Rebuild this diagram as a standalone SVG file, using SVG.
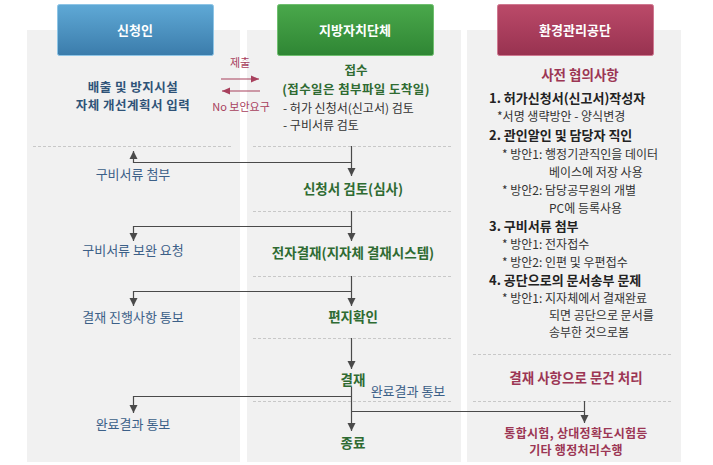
<svg xmlns="http://www.w3.org/2000/svg" width="713" height="465" viewBox="0 0 713 465">
<defs>
<linearGradient id="gBlue" x1="0" y1="0" x2="0" y2="1"><stop offset="0" stop-color="#5fa9d6"/><stop offset="1" stop-color="#3b7cab"/></linearGradient>
<linearGradient id="gGreen" x1="0" y1="0" x2="0" y2="1"><stop offset="0" stop-color="#4aa84b"/><stop offset="1" stop-color="#2f8634"/></linearGradient>
<linearGradient id="gRed" x1="0" y1="0" x2="0" y2="1"><stop offset="0" stop-color="#bb4a69"/><stop offset="1" stop-color="#983250"/></linearGradient>
<marker id="ah" markerUnits="userSpaceOnUse" markerWidth="10" markerHeight="10" viewBox="0 0 10 10" refX="9" refY="5" orient="auto"><path d="M1,1 L9,5 L1,9 Z" fill="#4a4a4a"/></marker>
<marker id="ahr" markerUnits="userSpaceOnUse" markerWidth="10" markerHeight="10" viewBox="0 0 10 10" refX="9" refY="5" orient="auto"><path d="M1,1.5 L9,5 L1,8.5 Z" fill="#a8405d"/></marker>
<style>
text{font-family:"Noto Sans CJK KR","Noto Sans",sans-serif;}
.panel{fill:#f1f1f1;}
.dash{stroke:#c8c8c8;stroke-width:1;stroke-dasharray:3 2;fill:none;}
.hdr{font-size:13px;font-weight:bold;fill:#ffffff;text-anchor:middle;}
.lt{font-size:13px;fill:#3c6088;text-anchor:middle;}
.ltb{font-size:12.5px;font-weight:bold;fill:#2f5378;text-anchor:middle;letter-spacing:0.5px;}
.gt{font-size:13.5px;font-weight:bold;fill:#2f6b32;text-anchor:middle;}
.gs{font-size:12.5px;font-weight:bold;fill:#2f6b32;text-anchor:middle;}
.rt{font-size:13.5px;font-weight:bold;fill:#9c3654;text-anchor:middle;}
.rs2{font-size:12px;font-weight:bold;fill:#9c3654;text-anchor:middle;letter-spacing:0.3px;}
.dk{font-size:12px;fill:#333333;}
.dkb{font-size:13px;font-weight:bold;fill:#222222;}
.rs{font-size:11px;fill:#a8405d;text-anchor:middle;}
.con{stroke:#4a4a4a;stroke-width:1.2;fill:none;}
.rcon{stroke:#a8405d;stroke-width:1.2;fill:none;}
</style>
</defs>
<rect x="0" y="0" width="713" height="465" fill="#ffffff"/>
<rect class="panel" x="27" y="30" width="213" height="432"/>
<rect class="panel" x="247" y="30" width="214" height="432"/>
<rect class="panel" x="467" y="30" width="214" height="432"/>

<g id="dashes">
<line class="dash" x1="33" y1="146.5" x2="232" y2="146.5"/>
<line class="dash" x1="253" y1="146.5" x2="453" y2="146.5"/>
<line class="dash" x1="253" y1="211.5" x2="453" y2="211.5"/>
<line class="dash" x1="253" y1="276.5" x2="453" y2="276.5"/>
<line class="dash" x1="253" y1="338.5" x2="453" y2="338.5"/>
<line class="dash" x1="253" y1="401.5" x2="453" y2="401.5"/>
<line class="dash" x1="473" y1="354.5" x2="673" y2="354.5"/>
<line class="dash" x1="473" y1="401.5" x2="673" y2="401.5"/>
</g>

<g id="hdr-applicant">
<rect x="57.5" y="4.5" width="156" height="51" rx="2" fill="url(#gBlue)" stroke="#8ec5e6" stroke-width="1"/>
<text class="hdr" x="135" y="35">신청인</text>
</g>
<g id="hdr-local">
<rect x="277.5" y="4.5" width="156" height="51" rx="2" fill="url(#gGreen)" stroke="#6fbf6f" stroke-width="1"/>
<text class="hdr" x="355" y="35">지방자치단체</text>
</g>
<g id="hdr-agency">
<rect x="497.5" y="4.5" width="156" height="51" rx="2" fill="url(#gRed)" stroke="#cf7890" stroke-width="1"/>
<text class="hdr" x="575" y="35">환경관리공단</text>
</g>

<g id="n-input">
<text class="ltb" x="133" y="92">배출 및 방지시설</text>
<text class="ltb" x="133" y="110">자체 개선계획서 입력</text>
</g>
<g id="n-receipt">
<text class="gs" x="356" y="75">접수</text>
<text class="gs" x="356" y="94" style="letter-spacing:0.4px">(접수일은 첨부파일 도착일)</text>
<text class="dk" x="283" y="113">- 허가 신청서(신고서) 검토</text>
<text class="dk" x="283" y="130">- 구비서류 검토</text>
</g>
<g id="n-attach"><text class="lt" x="133" y="179">구비서류 첨부</text></g>
<g id="n-review"><text class="gt" x="353" y="194">신청서 검토(심사)</text></g>
<g id="n-supp"><text class="lt" x="133" y="255">구비서류 보완 요청</text></g>
<g id="n-esign"><text class="gt" x="353" y="258">전자결재(지자체 결재시스템)</text></g>
<g id="n-progress"><text class="lt" x="133" y="322">결재 진행사항 통보</text></g>
<g id="n-check"><text class="gt" x="353" y="322">편지확인</text></g>
<g id="n-approve"><text class="gt" x="353" y="385">결재</text></g>
<g id="n-done-left"><text class="lt" x="133" y="429">완료결과 통보</text></g>
<g id="n-end"><text class="gt" x="353" y="448">종료</text></g>
<g id="n-done-mid"><text class="lt" x="408" y="396">완료결과 통보</text></g>

<g id="n-prior">
<text class="rt" x="580" y="80">사전 협의사항</text>
<text class="dkb" x="489" y="102.5">1. 허가신청서(신고서)작성자</text>
<text class="dk" x="497" y="121">*서명 생략방안 - 양식변경</text>
<text class="dkb" x="489" y="140">2. 관인알인 및 담당자 직인</text>
<text class="dk" x="502" y="159">* 방안1: 행정기관직인을 데이터</text>
<text class="dk" x="549" y="177">베이스에 저장 사용</text>
<text class="dk" x="502" y="195">* 방안2: 담당공무원의 개별</text>
<text class="dk" x="549" y="213">PC에 등록사용</text>
<text class="dkb" x="489" y="231">3. 구비서류 첨부</text>
<text class="dk" x="502" y="249">* 방안1: 전자접수</text>
<text class="dk" x="502" y="267">* 방안2: 인편 및 우편접수</text>
<text class="dkb" x="489" y="285">4. 공단으로의 문서송부 문제</text>
<text class="dk" x="502" y="303">* 방안1: 지자체에서 결재완료</text>
<text class="dk" x="549" y="320">되면 공단으로 문서를</text>
<text class="dk" x="549" y="337">송부한 것으로봄</text>
</g>
<g id="n-handle"><text class="rt" x="576" y="383">결재 사항으로 문건 처리</text></g>
<g id="n-admin">
<text class="rs2" x="576" y="438">통합시험, 상대정확도시험등</text>
<text class="rs2" x="576" y="455">기타 행정처리수행</text>
</g>

<g id="connectors">
<path class="rcon" d="M221,79 H259" marker-end="url(#ahr)"/>
<path class="rcon" d="M260,91 H222" marker-end="url(#ahr)"/>
<text class="rs" x="240" y="67">제출</text>
<text class="rs" x="241" y="111">No 보안요구</text>

<path class="con" d="M351.5,146 V176" marker-end="url(#ah)"/>
<path class="con" d="M351.5,162.5 H133.5 V151" marker-end="url(#ah)"/>
<path class="con" d="M351.5,211 V241" marker-end="url(#ah)"/>
<path class="con" d="M351.5,226.5 H133.5 V241" marker-end="url(#ah)"/>
<path class="con" d="M351.5,276 V306" marker-end="url(#ah)"/>
<path class="con" d="M351.5,291.5 H133.5 V306" marker-end="url(#ah)"/>
<path class="con" d="M351.5,338 V369" marker-end="url(#ah)"/>
<path class="con" d="M351.5,387 V431" marker-end="url(#ah)"/>
<path class="con" d="M351.5,396.5 H133.5 V413" marker-end="url(#ah)"/>
<path class="con" d="M351.5,411.5 H584.5"/>
<path class="con" d="M584.5,401 V423" marker-end="url(#ah)"/>
</g>
</svg>
